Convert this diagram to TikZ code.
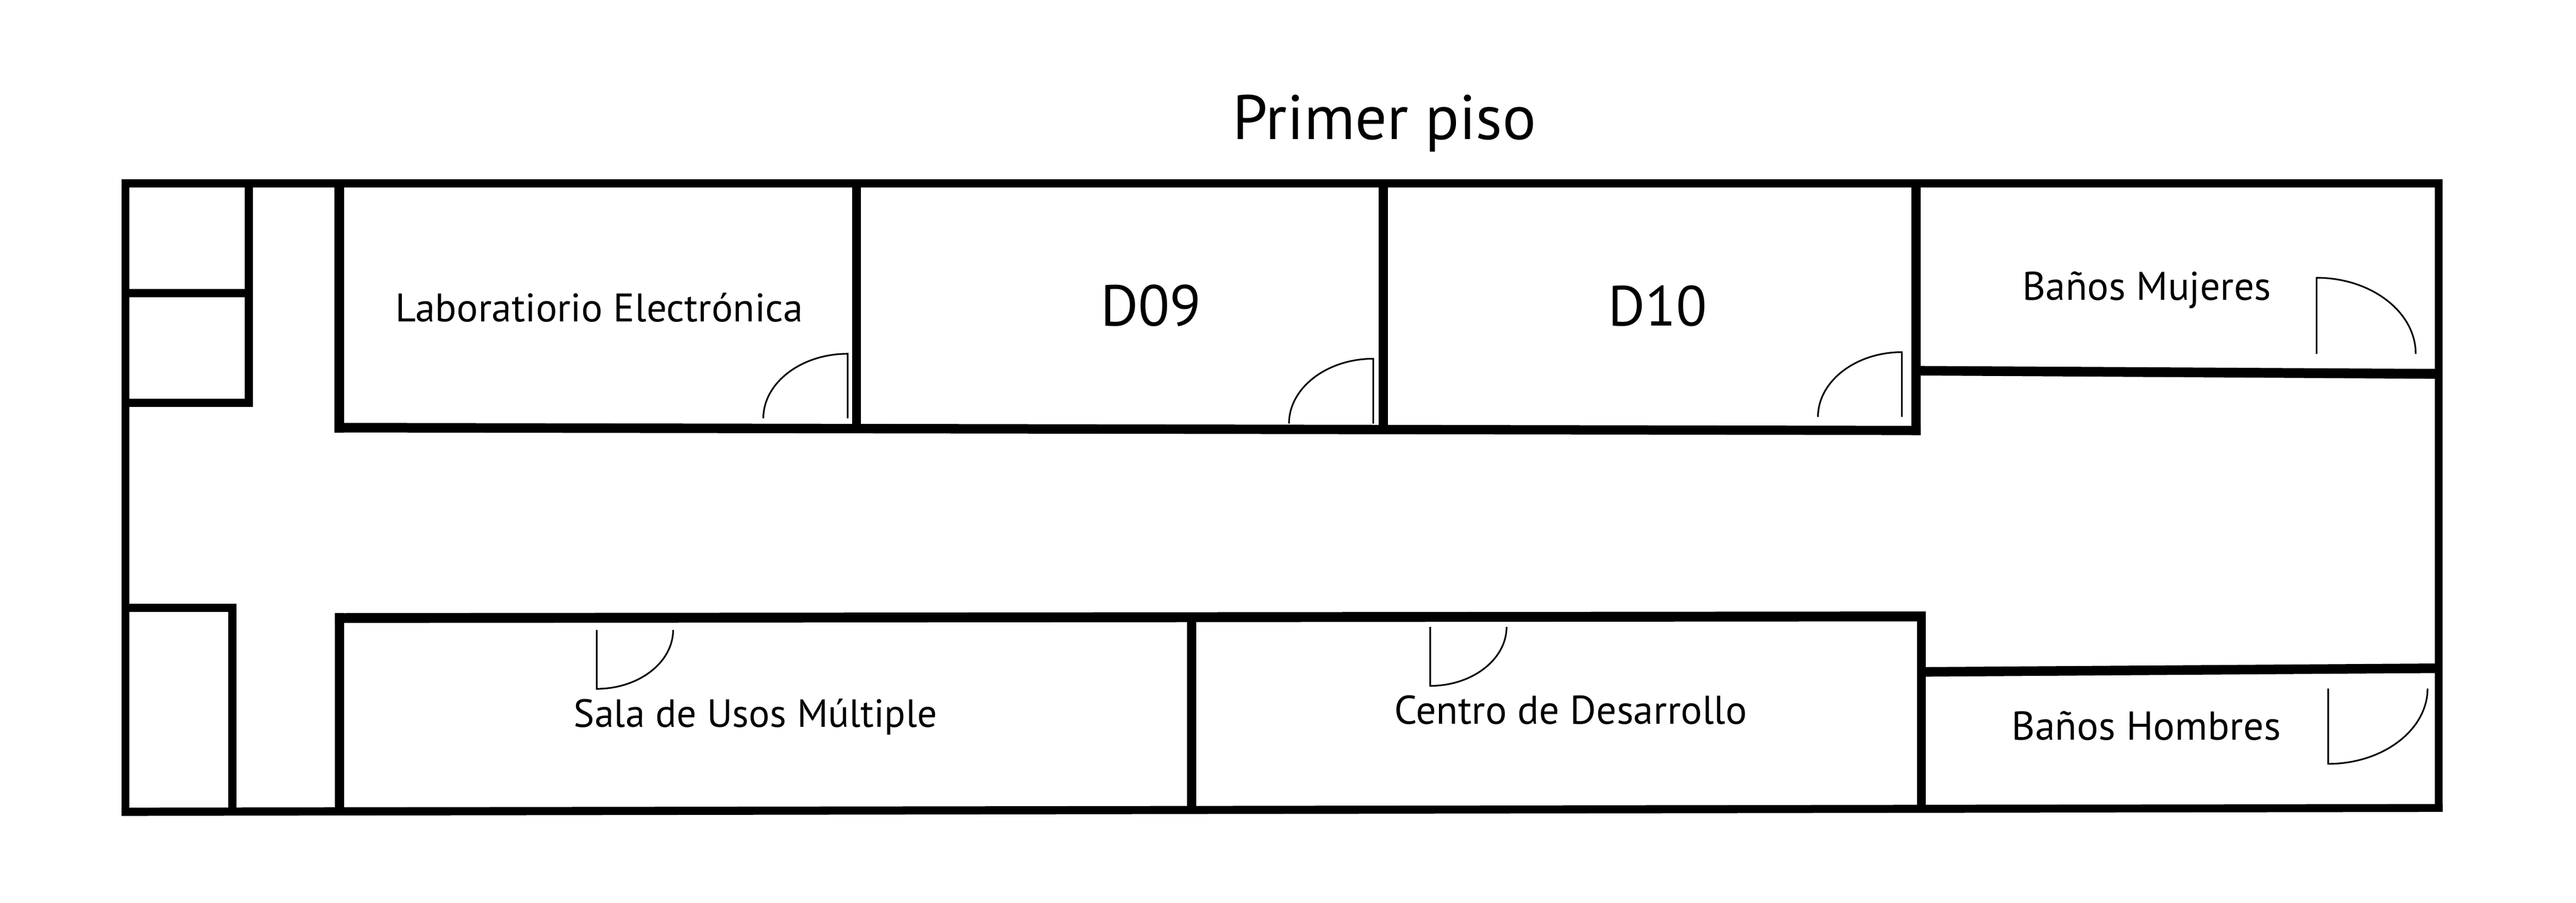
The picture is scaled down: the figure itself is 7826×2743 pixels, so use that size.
\documentclass[tikz,border=0pt]{standalone}
\usepackage{fontspec}
\usepackage{graphicx}
\setmainfont{PT Sans}
\tikzset{
  wall/.style={fill=black,draw=none},
  doorline/.style={draw=black,line width=0.5mm,line join=miter},
  label/.style={anchor=base west,inner sep=0pt,outer sep=0pt,text=black}
}
% name, x, y (baseline left), width in mm, text
\newcommand{\roomlabel}[5]{\node[label] (#1) at (#2,#3) {\resizebox{#4mm}{!}{#5}};}
\newcommand{\doorswing}[6]{% arc end A, hinge-top C, door foot B
  \draw[doorline] (#1,#2) .. controls ({#1},{#2+0.55*(#4-#2)}) and ({#3+0.55*(#1-#3)},{#4}) .. (#3,#4) -- (#5,#6);}
\begin{document}
\begin{tikzpicture}[x=0.1mm,y=-0.1mm]
\useasboundingbox (0,0) rectangle (7826,2743);
% outer shell
\fill[wall] (369,545) rectangle (7421,570);
\fill[wall] (369,545) rectangle (393,2479);
\fill[wall] (7397,545) rectangle (7421,2467);
\fill[wall] (369,2454) -- (7421,2443) -- (7421,2467) -- (369,2479) -- cycle;
% upper left closets
\fill[wall] (744,545) rectangle (768,1236);
\fill[wall] (393,878) rectangle (768,903);
\fill[wall] (393,1211) rectangle (768,1236);
% upper rooms
\fill[wall] (1016,545) rectangle (1045,1314);
\fill[wall] (2589,545) rectangle (2616,1300);
\fill[wall] (4189,545) rectangle (4217,1305);
\fill[wall] (5807,545) rectangle (5835,1322);
\fill[wall] (1016,1285) -- (5835,1294) -- (5835,1322) -- (1016,1314) -- cycle;
% Baños Mujeres wall
\fill[wall] (5835,1112) -- (7397,1121) -- (7397,1151) -- (5835,1141) -- cycle;
% lower left closet
\fill[wall] (369,1834) rectangle (718,1859);
\fill[wall] (694,1834) rectangle (718,2470);
% lower rooms
\fill[wall] (1017,1863) rectangle (1046,2470);
\fill[wall] (1017,1863) -- (5850,1858) -- (5850,1888) -- (1017,1893) -- cycle;
\fill[wall] (3606,1870) rectangle (3634,2460);
\fill[wall] (5824,1858) rectangle (5850,2460);
% Baños Hombres wall
\fill[wall] (5850,2027) -- (7397,2016) -- (7397,2045) -- (5850,2056) -- cycle;
% doors
\doorswing{2319}{1271}{2575}{1075}{2575}{1271}
\doorswing{3916}{1287}{4172}{1090}{4172}{1287}
\doorswing{5523}{1267}{5778}{1070}{5778}{1267}
\doorswing{7339}{1075}{7038}{844}{7038}{1075}
\doorswing{7375}{2092}{7073}{2321}{7073}{2092}
\doorswing{2045}{1914}{1813}{2093}{1813}{1914}
\doorswing{4577}{1905}{4345}{2084}{4345}{1905}
% labels
\roomlabel{title}{3745}{423}{92.2}{Primer piso}
\roomlabel{lab}{1202}{978}{123.8}{Laboratiorio Electrónica}
\roomlabel{dnine}{3344}{990}{30.6}{D09}
\roomlabel{dten}{4886}{990}{30.0}{D10}
\roomlabel{banm}{6144}{911}{75.6}{Baños Mujeres}
\roomlabel{banh}{6111}{2249}{81.8}{Baños Hombres}
\roomlabel{sala}{1743}{2209}{110.4}{Sala de Usos Múltiple}
\roomlabel{centro}{4236}{2200}{107.2}{Centro de Desarrollo}
\end{tikzpicture}
\end{document}
